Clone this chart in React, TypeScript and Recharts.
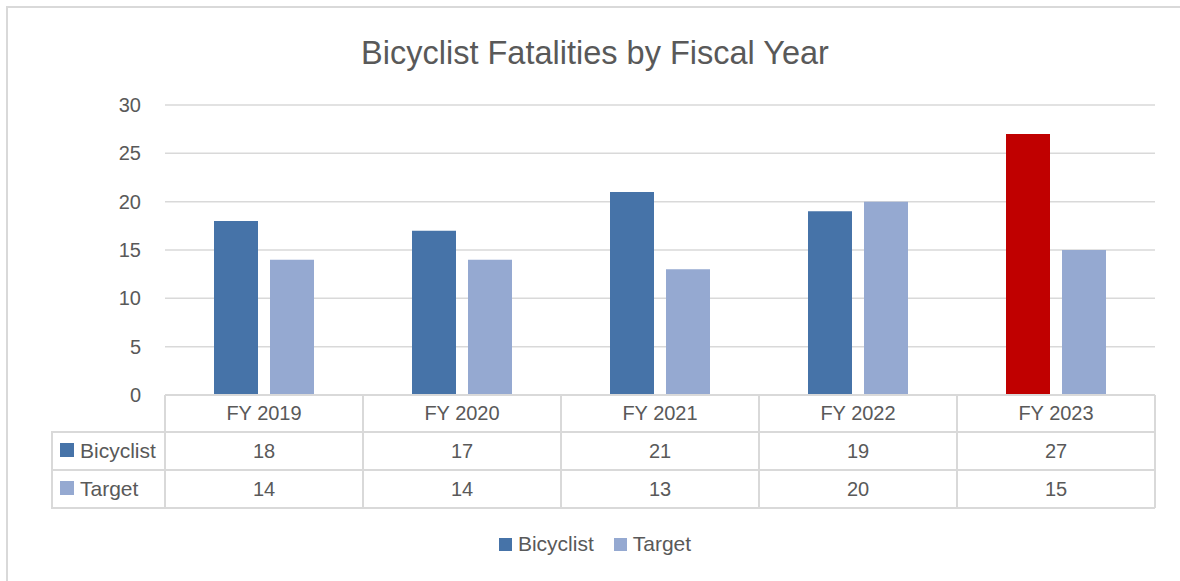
import React from "react";
import { BarChart, Bar, XAxis, YAxis, CartesianGrid, Legend, Cell } from "recharts";

const categories = ["FY 2019", "FY 2020", "FY 2021", "FY 2022", "FY 2023"];
const bicyclist = [18, 17, 21, 19, 27];
const target = [14, 14, 13, 20, 15];
const yTicks = [0, 5, 10, 15, 20, 25, 30];

const data = categories.map((c, i) => ({ name: c, Bicyclist: bicyclist[i], Target: target[i] }));

const W = 1180;
const H = 581;
const MARGIN = { top: 105, right: 25, left: 0, bottom: 73 };
const Y_AXIS_W = 165;
const X_AXIS_H = 113;
const HALF = (W - MARGIN.right - MARGIN.left - Y_AXIS_W) / categories.length / 2;

const TEXT = "#595959";
const GRID = "#d9d9d9";
const BLUE = "#4673a8";
const LIGHT = "#95a9d1";
const RED = "#c00000";
const FONT = "'Liberation Sans', Arial, sans-serif";
const FS = 20;
const FS_LABEL = 21;

const ROW_Y = [0, 37, 75, 113];

const TableTick = (props: any) => {
  const { x, y, index, payload } = props;
  const left = x - HALF;
  const right = x + HALF;
  const stroke = { stroke: GRID, strokeWidth: 2 };
  const colLeft = 52;
  return (
    <g>
      <line x1={left} x2={left} y1={y + ROW_Y[0]} y2={y + ROW_Y[3]} {...stroke} />
      <line x1={right} x2={right} y1={y + ROW_Y[0]} y2={y + ROW_Y[3]} {...stroke} />
      <line x1={left} x2={right} y1={y + ROW_Y[1]} y2={y + ROW_Y[1]} {...stroke} />
      <line x1={left} x2={right} y1={y + ROW_Y[2]} y2={y + ROW_Y[2]} {...stroke} />
      <line x1={left} x2={right} y1={y + ROW_Y[3]} y2={y + ROW_Y[3]} {...stroke} />
      <text x={x} y={y + 25} textAnchor="middle" fill={TEXT} fontSize={FS} fontFamily={FONT}>
        {payload.value}
      </text>
      <text x={x} y={y + 63} textAnchor="middle" fill={TEXT} fontSize={FS} fontFamily={FONT}>
        {bicyclist[index]}
      </text>
      <text x={x} y={y + 101} textAnchor="middle" fill={TEXT} fontSize={FS} fontFamily={FONT}>
        {target[index]}
      </text>
      {index === 0 && (
        <g>
          <line x1={colLeft} x2={left} y1={y + ROW_Y[1]} y2={y + ROW_Y[1]} {...stroke} />
          <line x1={colLeft} x2={left} y1={y + ROW_Y[2]} y2={y + ROW_Y[2]} {...stroke} />
          <line x1={colLeft} x2={left} y1={y + ROW_Y[3]} y2={y + ROW_Y[3]} {...stroke} />
          <line x1={colLeft} x2={colLeft} y1={y + ROW_Y[1] - 1} y2={y + ROW_Y[3] + 1} {...stroke} />
          <rect x={60} y={y + 48} width={14} height={14} fill={BLUE} />
          <text x={80} y={y + 63} fill={TEXT} fontSize={FS_LABEL} fontFamily={FONT}>Bicyclist</text>
          <rect x={60} y={y + 86} width={14} height={14} fill={LIGHT} />
          <text x={80} y={y + 101} fill={TEXT} fontSize={FS_LABEL} fontFamily={FONT}>Target</text>
        </g>
      )}
    </g>
  );
};

const LegendContent = () => (
  <div style={{ display: "flex", justifyContent: "center", alignItems: "center", fontFamily: FONT, fontSize: FS_LABEL, color: TEXT, paddingLeft: 10 }}>
    <span style={{ display: "inline-block", width: 13, height: 13, background: BLUE, marginRight: 6 }} />
    <span style={{ marginRight: 20 }}>Bicyclist</span>
    <span style={{ display: "inline-block", width: 13, height: 13, background: LIGHT, marginRight: 6 }} />
    <span>Target</span>
  </div>
);

export default function App() {
  return (
    <div style={{ position: "absolute", left: 0, top: 0, width: W, height: H, overflow: "hidden", background: "#fff" }}>
      <div style={{ position: "absolute", left: 6, top: 6, width: W + 20, height: H + 20, border: `2px solid ${GRID}` }} />
      <div
        style={{
          position: "absolute",
          left: 5,
          top: 33,
          width: W,
          textAlign: "center",
          fontFamily: FONT,
          fontSize: 32.5,
          lineHeight: "40px",
          color: TEXT,
        }}
      >
        Bicyclist Fatalities by Fiscal Year
      </div>
      <div style={{ position: "absolute", left: 0, top: 0 }}>
        <BarChart width={W} height={H} data={data} margin={MARGIN} barSize={44} barGap={12}>
          <CartesianGrid vertical={false} stroke={GRID} strokeWidth={1.5} />
          <YAxis
            width={Y_AXIS_W}
            domain={[0, 30]}
            ticks={yTicks}
            axisLine={false}
            tickLine={false}
            tickSize={0}
            tickMargin={24}
            tick={{ fill: TEXT, fontSize: FS, fontFamily: FONT }}
          />
          <XAxis
            dataKey="name"
            height={X_AXIS_H}
            axisLine={{ stroke: GRID, strokeWidth: 2 }}
            tickLine={false}
            tickSize={0}
            tickMargin={0}
            interval={0}
            tick={<TableTick />}
          />
          <Legend
            verticalAlign="middle"
            align="center"
            layout="horizontal"
            content={<LegendContent />}
            wrapperStyle={{ top: 532, left: 0, width: W, height: 30 }}
          />
          <Bar dataKey="Bicyclist" fill={BLUE} isAnimationActive={false}>
            {data.map((d, i) => (
              <Cell key={d.name} fill={i === data.length - 1 ? RED : BLUE} />
            ))}
          </Bar>
          <Bar dataKey="Target" fill={LIGHT} isAnimationActive={false} />
        </BarChart>
      </div>
    </div>
  );
}
